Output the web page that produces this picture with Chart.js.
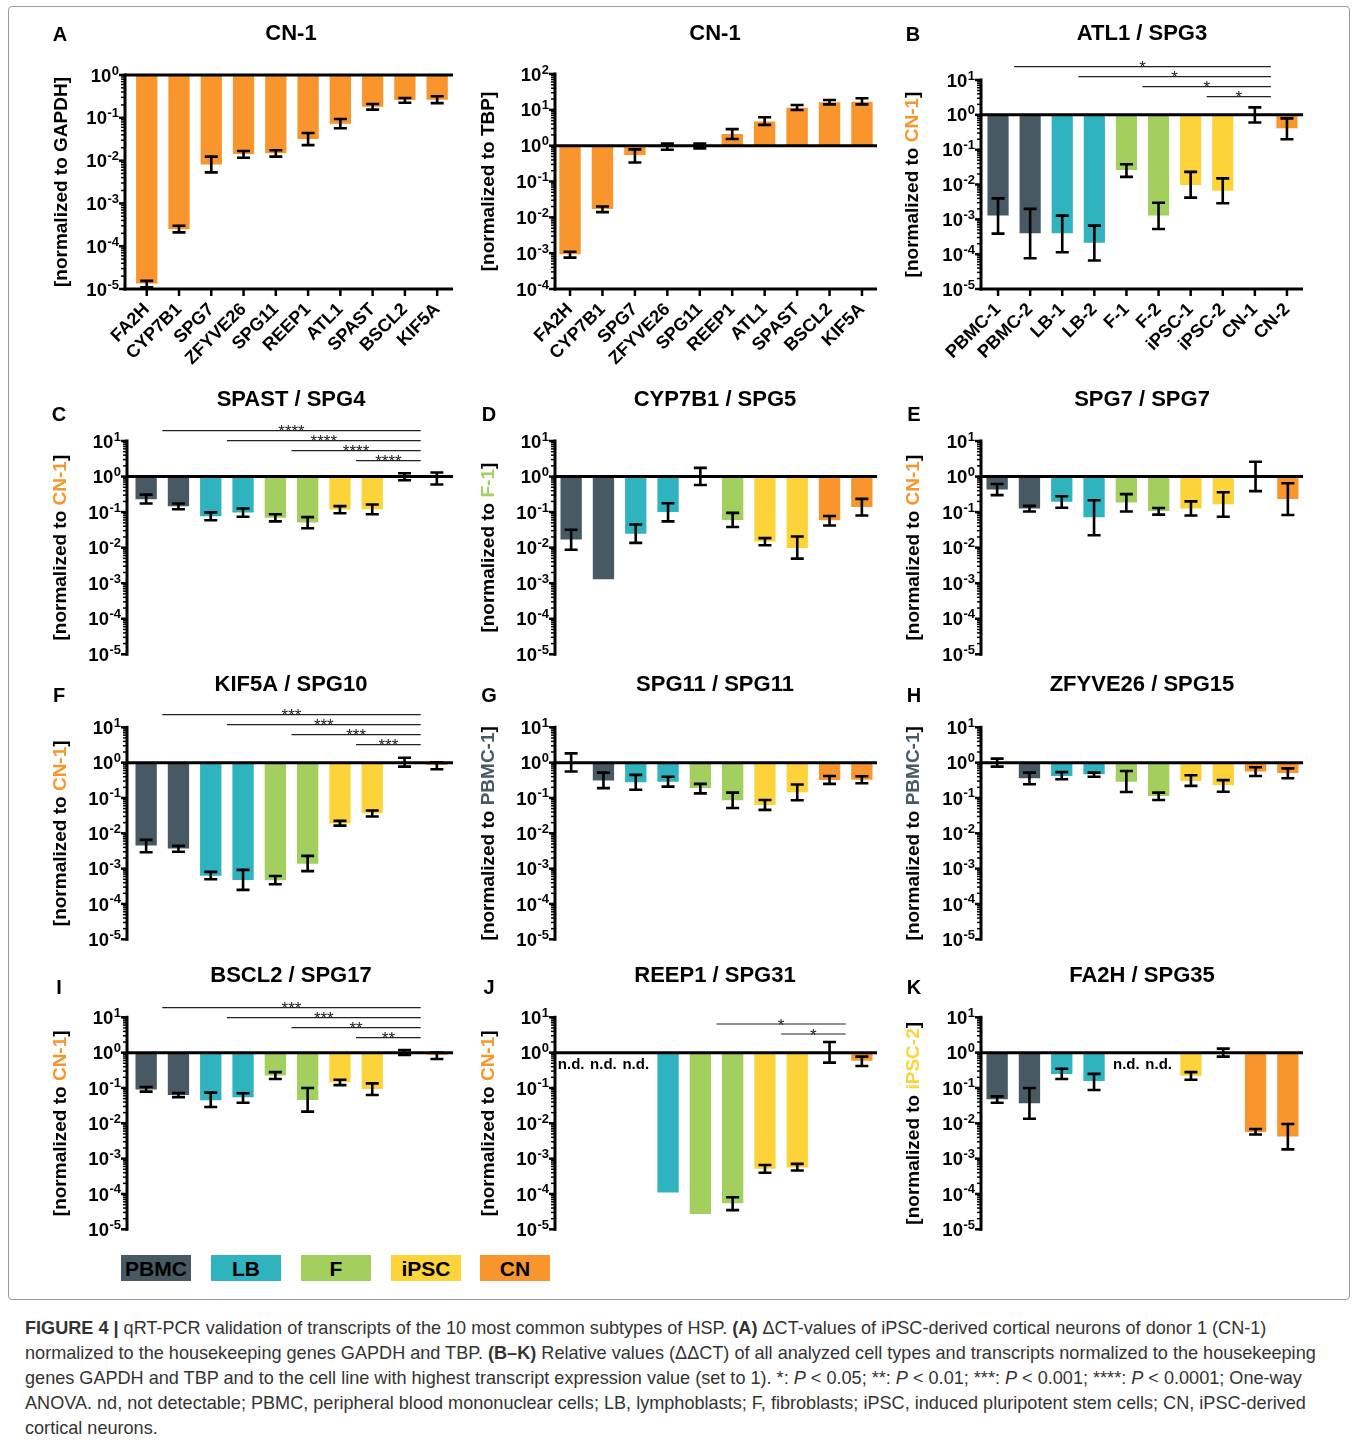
<!DOCTYPE html>
<html><head><meta charset="utf-8">
<script src="https://cdn.jsdelivr.net/npm/chart.js@4.4.1/dist/chart.umd.min.js"></script>
<style>
html,body{margin:0;padding:0;background:#fff;}
body{width:1358px;height:1440px;position:relative;overflow:hidden;font-family:"Liberation Sans",Arial,sans-serif;}
canvas{position:absolute;}
#frame{position:absolute;left:8px;top:6px;width:1342px;height:1294px;border:1px solid #9a9a9a;border-radius:4px;box-sizing:border-box;}
.lg{position:absolute;top:1255px;height:26px;width:70px;font:bold 21px "Liberation Sans",Arial,sans-serif;line-height:27px;text-align:center;color:#000;}
#caption{position:absolute;left:25px;top:1316px;font:18.1px "Liberation Sans",Arial,sans-serif;line-height:25px;color:#333;white-space:nowrap;}
</style></head><body>
<div id="frame"></div>
<div class="lg" style="left:121px;background:#475a63">PBMC</div>
<div class="lg" style="left:211px;background:#2fb3be">LB</div>
<div class="lg" style="left:301px;background:#a2cf5e">F</div>
<div class="lg" style="left:391px;background:#fdd33a">iPSC</div>
<div class="lg" style="left:480px;background:#f8962d">CN</div>
<div id="caption"><b>FIGURE 4 |</b> qRT-PCR validation of transcripts of the 10 most common subtypes of HSP. <b>(A)</b> ΔCT-values of iPSC-derived cortical neurons of donor 1 (CN-1)<br>normalized to the housekeeping genes GAPDH and TBP. <b>(B–K)</b> Relative values (ΔΔCT) of all analyzed cell types and transcripts normalized to the housekeeping<br>genes GAPDH and TBP and to the cell line with highest transcript expression value (set to 1). *: <i>P</i> &lt; 0.05; **: <i>P</i> &lt; 0.01; ***: <i>P</i> &lt; 0.001; ****: <i>P</i> &lt; 0.0001; One-way<br>ANOVA. nd, not detectable; PBMC, peripheral blood mononuclear cells; LB, lymphoblasts; F, fibroblasts; iPSC, induced pluripotent stem cells; CN, iPSC-derived<br>cortical neurons.</div>
<script>
// ---------- categories ----------
const genes = ['FA2H','CYP7B1','SPG7','ZFYVE26','SPG11','REEP1','ATL1','SPAST','BSCL2','KIF5A'];
const cellLines = ['PBMC-1','PBMC-2','LB-1','LB-2','F-1','F-2','iPSC-1','iPSC-2','CN-1','CN-2'];

// ---------- A: CN-1 normalized to GAPDH ----------
const gapdhMean = [1.35e-5, 2.5e-4, 8.1e-3, 1.42e-2, 1.48e-2, 3.2e-2, 7.3e-2, 0.18, 0.26, 0.265];
const gapdhLow  = [1.1e-5, 2.1e-4, 5.3e-3, 1.17e-2, 1.24e-2, 2.3e-2, 5.7e-2, 0.155, 0.225, 0.22];
const gapdhHigh = [1.55e-5, 3.0e-4, 1.24e-2, 1.67e-2, 1.74e-2, 4.4e-2, 9.4e-2, 0.21, 0.29, 0.32];
// ---------- A: CN-1 normalized to TBP ----------
const tbpMean = [9.3e-4, 1.7e-2, 0.55, 0.9, 1.02, 2.1, 4.7, 11.5, 16.2, 16.9];
const tbpLow  = [7.5e-4, 1.4e-2, 0.34, 0.77, 0.84, 1.53, 3.8, 9.9, 14.2, 14.2];
const tbpHigh = [1.1e-3, 2.0e-2, 0.79, 1.14, 1.14, 2.9, 6.2, 13.6, 18.8, 21];
// ---------- B: ATL1 ----------
const atl1Mean = [1.28e-3, 4.0e-4, 4.0e-4, 2.14e-4, 2.6e-2, 1.28e-3, 9.7e-3, 6.6e-3, 1, 0.41];
const atl1Low  = [3.9e-4, 7.6e-5, 1.13e-4, 6.6e-5, 1.65e-2, 5.3e-4, 4.2e-3, 2.9e-3, 0.6, 0.2];
const atl1High = [4.0e-3, 2.0e-3, 1.28e-3, 6.6e-4, 3.8e-2, 3.0e-3, 2.3e-2, 1.5e-2, 1.64, 0.79];
// ---------- C: SPAST ----------
const spastMean = [0.23, 0.147, 0.076, 0.098, 0.069, 0.051, 0.118, 0.12, 1, 0.93];
const spastLow  = [0.175, 0.12, 0.059, 0.074, 0.055, 0.035, 0.093, 0.087, 0.79, 0.6];
const spastHigh = [0.31, 0.175, 0.098, 0.126, 0.087, 0.072, 0.147, 0.163, 1.24, 1.3];
// ---------- D: CYP7B1 ----------
const cyp7b1Mean = [0.017, 1.3e-3, 0.0245, 0.1, 1, 0.06, 0.0149, 0.0098, 0.059, 0.14];
const cyp7b1Low  = [0.0087, null, 0.0136, 0.055, 0.58, 0.038, 0.0117, 0.0049, 0.042, 0.08];
const cyp7b1High = [0.032, null, 0.045, 0.178, 1.75, 0.095, 0.0185, 0.0205, 0.078, 0.235];
// ---------- E: SPG7 ----------
const spg7Mean = [0.43, 0.126, 0.194, 0.072, 0.185, 0.107, 0.126, 0.166, 1, 0.235];
const spg7Low  = [0.30, 0.104, 0.132, 0.0224, 0.104, 0.085, 0.08, 0.074, 0.39, 0.083];
const spg7High = [0.62, 0.15, 0.28, 0.215, 0.32, 0.13, 0.2, 0.36, 2.6, 0.65];
// ---------- F: KIF5A ----------
const kif5aMean = [4.5e-3, 3.7e-3, 6.3e-4, 4.8e-4, 4.7e-4, 1.38e-3, 0.019, 0.037, 1, 0.86];
const kif5aLow  = [2.9e-3, 3.0e-3, 5.0e-4, 2.5e-4, 3.6e-4, 8.5e-4, 0.0165, 0.03, 0.77, 0.65];
const kif5aHigh = [6.5e-3, 4.4e-3, 8.1e-4, 9.2e-4, 6.2e-4, 2.3e-3, 0.0224, 0.044, 1.38, 1.02];
// ---------- G: SPG11 ----------
const spg11Mean = [1, 0.31, 0.28, 0.29, 0.19, 0.086, 0.063, 0.145, 0.32, 0.33];
const spg11Low  = [0.56, 0.19, 0.17, 0.21, 0.135, 0.052, 0.046, 0.086, 0.25, 0.26];
const spg11High = [1.83, 0.52, 0.45, 0.40, 0.25, 0.142, 0.088, 0.24, 0.42, 0.41];
// ---------- H: ZFYVE26 ----------
const zfyve26Mean = [1, 0.36, 0.42, 0.47, 0.29, 0.114, 0.30, 0.23, 0.56, 0.51];
const zfyve26Low  = [0.77, 0.245, 0.34, 0.40, 0.148, 0.088, 0.22, 0.15, 0.42, 0.36];
const zfyve26High = [1.3, 0.52, 0.54, 0.52, 0.58, 0.142, 0.44, 0.32, 0.74, 0.69];
// ---------- I: BSCL2 ----------
const bscl2Mean = [0.091, 0.063, 0.045, 0.055, 0.224, 0.046, 0.145, 0.094, 1, 0.87];
const bscl2Low  = [0.079, 0.055, 0.029, 0.038, 0.18, 0.0214, 0.12, 0.063, 0.86, 0.66];
const bscl2High = [0.107, 0.072, 0.074, 0.071, 0.28, 0.1, 0.17, 0.135, 1.19, 1.0];
// ---------- J: REEP1 (null = n.d.) ----------
const reep1Mean = [null, null, null, 1.1e-4, 2.7e-5, 5.5e-5, 5.2e-4, 5.6e-4, 1, 0.59];
const reep1Low  = [null, null, null, null, null, 3.5e-5, 4.0e-4, 4.6e-4, 0.52, 0.42];
const reep1High = [null, null, null, null, null, 8.1e-5, 6.6e-4, 7.1e-4, 2.0, 0.77];
// ---------- K: FA2H (null = n.d.) ----------
const fa2hMean = [0.048, 0.037, 0.25, 0.158, null, null, 0.22, 1, 5.7e-3, 4.2e-3];
const fa2hLow  = [0.038, 0.0135, 0.18, 0.088, null, null, 0.17, 0.77, 4.8e-3, 1.83e-3];
const fa2hHigh = [0.058, 0.1, 0.35, 0.25, null, null, 0.28, 1.3, 6.9e-3, 9.6e-3];

// ---------- significance brackets: [from group-mid index, to index, stars] ----------
const sigB = [[0.5, 8.5, '*'], [2.5, 8.5, '*'], [4.5, 8.5, '*'], [6.5, 8.5, '*']];
const sigC = [[0.5, 8.5, '****'], [2.5, 8.5, '****'], [4.5, 8.5, '****'], [6.5, 8.5, '****']];
const sigF = [[0.5, 8.5, '***'], [2.5, 8.5, '***'], [4.5, 8.5, '***'], [6.5, 8.5, '***']];
const sigI = [[0.5, 8.5, '***'], [2.5, 8.5, '***'], [4.5, 8.5, '**'], [6.5, 8.5, '**']];
const sigJ = [[4.5, 8.5, '*'], [6.5, 8.5, '*']];

// ---------- styles ----------
const C_PBMC = '#475a63', C_LB = '#2fb3be', C_F = '#a2cf5e', C_IPSC = '#fdd33a', C_CN = '#f8962d';
const cellColors = [C_PBMC, C_PBMC, C_LB, C_LB, C_F, C_F, C_IPSC, C_IPSC, C_CN, C_CN];
const FONT = '"Liberation Sans", Arial, sans-serif';

function drawYAxis(ctx, Y, p) {
  const top = Y(p.yMax), bot = Y(p.yMin);
  ctx.strokeStyle = '#000';
  ctx.lineWidth = 3;
  ctx.beginPath(); ctx.moveTo(p.axisX, top - 1.5); ctx.lineTo(p.axisX, bot + 1.5); ctx.stroke();
  const e0 = Math.round(Math.log10(p.yMin)), e1 = Math.round(Math.log10(p.yMax));
  for (let e = e0; e <= e1; e++) {
    const y = Y(Math.pow(10, e));
    ctx.lineWidth = 2.5;
    ctx.beginPath(); ctx.moveTo(p.axisX, y); ctx.lineTo(p.axisX - 6, y); ctx.stroke();
    if (e < e1) {
      for (let k = 2; k <= 9; k++) {
        const ym = Y(k * Math.pow(10, e));
        ctx.lineWidth = 1.5;
        ctx.beginPath(); ctx.moveTo(p.axisX, ym); ctx.lineTo(p.axisX - 4, ym); ctx.stroke();
      }
    }
    const ex = e < 0 ? '-' + (-e) : String(e);
    ctx.fillStyle = '#000';
    ctx.font = 'bold 13px ' + FONT;
    const ew = ctx.measureText(ex).width;
    const right = p.axisX - 6;
    ctx.textAlign = 'left'; ctx.textBaseline = 'alphabetic';
    ctx.fillText(ex, right - ew, y - 0.5);
    ctx.font = 'bold 18.5px ' + FONT;
    ctx.textAlign = 'right'; ctx.textBaseline = 'middle';
    ctx.fillText('10', right - ew - 0.5, y + 1.5);
  }
}

function drawYTitle(ctx, parts, cx, cy) {
  ctx.save();
  ctx.font = 'bold 19px ' + FONT;
  ctx.textBaseline = 'middle'; ctx.textAlign = 'left';
  const w = parts.map(pt => ctx.measureText(pt[0]).width);
  const total = w.reduce((a, b) => a + b, 0);
  ctx.translate(cx, cy); ctx.rotate(-Math.PI / 2);
  let x = -total / 2;
  parts.forEach((pt, i) => { ctx.fillStyle = pt[1]; ctx.fillText(pt[0], x, 0); x += w[i]; });
  ctx.restore();
}

function decor(p) {
  return {
    id: 'decor' + p.key,
    afterDatasetsDraw(chart) {
      const ctx = chart.ctx, xs = chart.scales.x, ys = chart.scales.y;
      // page-coordinate helpers (scale pixels are canvas-local)
      const X = v => xs.getPixelForValue(v) + p.box[0];
      const Y = v => ys.getPixelForValue(v) + p.box[1];
      ctx.save();
      ctx.translate(-p.box[0], -p.box[1]);
      const y1 = Y(1);
      ctx.strokeStyle = '#000'; ctx.lineWidth = 3;
      ctx.beginPath(); ctx.moveTo(p.axisX, y1); ctx.lineTo(p.baseRight, y1); ctx.stroke();
      if (p.showX) {
        const yb = Y(p.yMin);
        ctx.beginPath(); ctx.moveTo(p.axisX - 1.5, yb); ctx.lineTo(p.baseRight, yb); ctx.stroke();
        ctx.lineWidth = 2.5;
        for (let i = 0; i < p.labels.length; i++) {
          const x = X(i);
          ctx.beginPath(); ctx.moveTo(x, yb); ctx.lineTo(x, yb + 7); ctx.stroke();
        }
      }
      drawYAxis(ctx, Y, p);
      ctx.strokeStyle = '#000'; ctx.lineWidth = 2.6;
      for (let i = 0; i < p.labels.length; i++) {
        const lo = p.low[i], hi = p.high[i];
        if (lo == null || hi == null) continue;
        const x = X(i);
        const a = Y(lo), b = Y(hi);
        ctx.beginPath();
        ctx.moveTo(x, a); ctx.lineTo(x, b);
        ctx.moveTo(x - 6.5, a); ctx.lineTo(x + 6.5, a);
        ctx.moveTo(x - 6.5, b); ctx.lineTo(x + 6.5, b);
        ctx.stroke();
      }
      if (p.sig) {
        const n = p.sig.length;
        p.sig.forEach((s, j) => {
          const y = p.sigBottom - (n - 1 - j) * 10;
          const xa = X(s[0]), xb = X(s[1]);
          ctx.strokeStyle = '#222'; ctx.lineWidth = 1.2;
          ctx.beginPath(); ctx.moveTo(xa, y); ctx.lineTo(xb, y); ctx.stroke();
          ctx.fillStyle = '#222'; ctx.font = '17px ' + FONT;
          ctx.textAlign = 'center'; ctx.textBaseline = 'alphabetic';
          ctx.fillText(s[2], (xa + xb) / 2, y + 6.5);
        });
      }
      ctx.fillStyle = '#000'; ctx.font = 'bold 15px ' + FONT;
      ctx.textAlign = 'center'; ctx.textBaseline = 'middle';
      for (let i = 0; i < p.labels.length; i++) {
        if (p.mean[i] == null) ctx.fillText('n.d.', X(i), y1 + 12);
      }
      ctx.fillStyle = '#000';
      ctx.font = 'bold 22px ' + FONT; ctx.textAlign = 'center'; ctx.textBaseline = 'middle';
      ctx.fillText(p.title, p.titlePos[0], p.titlePos[1]);
      if (p.letter) {
        ctx.font = 'bold 20px ' + FONT;
        ctx.fillText(p.letter, p.letterPos[0], p.letterPos[1]);
      }
      drawYTitle(ctx, p.ytitle, p.ytitleX, (Y(p.yMax) + Y(p.yMin)) / 2);
      ctx.restore();
    }
  };
}

function makePanel(p) {
  const cv = document.createElement('canvas');
  cv.width = p.box[2]; cv.height = p.box[3];
  cv.style.left = p.box[0] + 'px'; cv.style.top = p.box[1] + 'px';
  cv.style.width = p.box[2] + 'px'; cv.style.height = p.box[3] + 'px';
  document.body.appendChild(cv);
  const xh = p.showX ? 90 : 0;
  const pad = {
    left: p.area[0] - p.box[0],
    right: p.box[0] + p.box[2] - p.area[1],
    top: p.area[2] - p.box[1],
    bottom: p.box[1] + p.box[3] - p.area[3] - xh
  };
  new Chart(cv, {
    type: 'bar',
    data: {
      labels: p.labels,
      datasets: [{
        data: p.mean.map(v => v == null ? null : [v, 1]),
        backgroundColor: p.colors,
        borderWidth: 0,
        barPercentage: 0.66,
        categoryPercentage: 1.0
      }]
    },
    options: {
      responsive: false, animation: false, devicePixelRatio: 1,
      layout: { padding: pad },
      plugins: { legend: { display: false }, tooltip: { enabled: false }, title: { display: false } },
      scales: {
        x: {
          display: p.showX, offset: true,
          grid: { display: true, drawOnChartArea: false, drawTicks: true, tickLength: 10, color: 'rgba(0,0,0,0)' },
          border: { display: false },
          ticks: { autoSkip: false, minRotation: 45, maxRotation: 45, padding: 0, color: '#000',
                   font: { family: FONT, size: 18, weight: 'bold' } },
          afterFit: (s) => { s.height = xh; }
        },
        y: { type: 'logarithmic', display: false, min: p.yMin, max: p.yMax }
      }
    },
    plugins: [decor(p)]
  });
}

const col1 = { box: [20, 450], area: [130, 453], axisX: 127, baseRight: 453, tx: 291, lx: 59, ytx: 61 };
const col2 = { box: [470, 425], area: [555, 878], axisX: 555, baseRight: 877, tx: 715, lx: 489, ytx: 489 };
const col3 = { box: [895, 450], area: [981, 1304], axisX: 981, baseRight: 1303, tx: 1142, lx: 914, ytx: 914 };
const rows = [
  { top: 380, h: 285, yt: 441, yb: 654.3, titleY: 400, letterY: 415 },
  { top: 665, h: 290, yt: 727.3, yb: 939.3, titleY: 685, letterY: 696 },
  { top: 955, h: 290, yt: 1017.3, yb: 1229.3, titleY: 976, letterY: 988 }
];
function cellPanel(key, col, row, title, mean, low, high, ytitle, extra) {
  return Object.assign({
    key, box: [col.box[0], row.top, col.box[1], row.h], area: [col.area[0], col.area[1], row.yt, row.yb],
    axisX: col.axisX, baseRight: col.baseRight, yMin: 1e-5, yMax: 10,
    labels: cellLines, mean, low, high, colors: cellColors, showX: false,
    title, titlePos: [col.tx, row.titleY], letter: key, letterPos: [col.lx, row.letterY],
    ytitle, ytitleX: col.ytx
  }, extra || {});
}
const toCN = [['[normalized to ', '#000'], ['CN-1', C_CN], [']', '#000']];
const toF = [['[normalized to ', '#000'], ['F-1', C_F], [']', '#000']];
const toPBMC = [['[normalized to ', '#000'], ['PBMC-1', C_PBMC], [']', '#000']];
const toIPSC = [['[normalized to ', '#000'], ['iPSC-2', C_IPSC], [']', '#000']];

const panels = [
  { key: 'A1', box: [20, 0, 450, 380], area: [130.6, 453.3, 75, 289], axisX: 125, baseRight: 453,
    yMin: 1e-5, yMax: 1, labels: genes, mean: gapdhMean, low: gapdhLow, high: gapdhHigh,
    colors: genes.map(() => C_CN), showX: true, title: 'CN-1', titlePos: [291, 34],
    letter: 'A', letterPos: [60, 35], ytitle: [['[normalized to GAPDH]', '#000']], ytitleX: 62 },
  { key: 'A2', box: [470, 0, 425, 380], area: [553.8, 878.2, 74, 289], axisX: 555, baseRight: 877,
    yMin: 1e-4, yMax: 100, labels: genes, mean: tbpMean, low: tbpLow, high: tbpHigh,
    colors: genes.map(() => C_CN), showX: true, title: 'CN-1', titlePos: [715, 34],
    letter: null, ytitle: [['[normalized to TBP]', '#000']], ytitleX: 489 },
  { key: 'B', box: [895, 0, 450, 380], area: [982, 1303, 80, 289], axisX: 981, baseRight: 1303,
    yMin: 1e-5, yMax: 10, labels: cellLines, mean: atl1Mean, low: atl1Low, high: atl1High,
    colors: cellColors, showX: true, title: 'ATL1 / SPG3', titlePos: [1142, 34],
    letter: 'B', letterPos: [913, 35], ytitle: toCN, ytitleX: 913, sig: sigB, sigBottom: 96.7 },
  cellPanel('C', col1, rows[0], 'SPAST / SPG4', spastMean, spastLow, spastHigh, toCN, { sig: sigC, sigBottom: 460.7 }),
  cellPanel('D', col2, rows[0], 'CYP7B1 / SPG5', cyp7b1Mean, cyp7b1Low, cyp7b1High, toF),
  cellPanel('E', col3, rows[0], 'SPG7 / SPG7', spg7Mean, spg7Low, spg7High, toCN),
  cellPanel('F', col1, rows[1], 'KIF5A / SPG10', kif5aMean, kif5aLow, kif5aHigh, toCN, { sig: sigF, sigBottom: 744.7 }),
  cellPanel('G', col2, rows[1], 'SPG11 / SPG11', spg11Mean, spg11Low, spg11High, toPBMC),
  cellPanel('H', col3, rows[1], 'ZFYVE26 / SPG15', zfyve26Mean, zfyve26Low, zfyve26High, toPBMC),
  cellPanel('I', col1, rows[2], 'BSCL2 / SPG17', bscl2Mean, bscl2Low, bscl2High, toCN, { sig: sigI, sigBottom: 1037.7 }),
  cellPanel('J', col2, rows[2], 'REEP1 / SPG31', reep1Mean, reep1Low, reep1High, toCN, { sig: sigJ, sigBottom: 1034 }),
  cellPanel('K', col3, rows[2], 'FA2H / SPG35', fa2hMean, fa2hLow, fa2hHigh, toIPSC)
];
panels.forEach(makePanel);
</script>
</body></html>
